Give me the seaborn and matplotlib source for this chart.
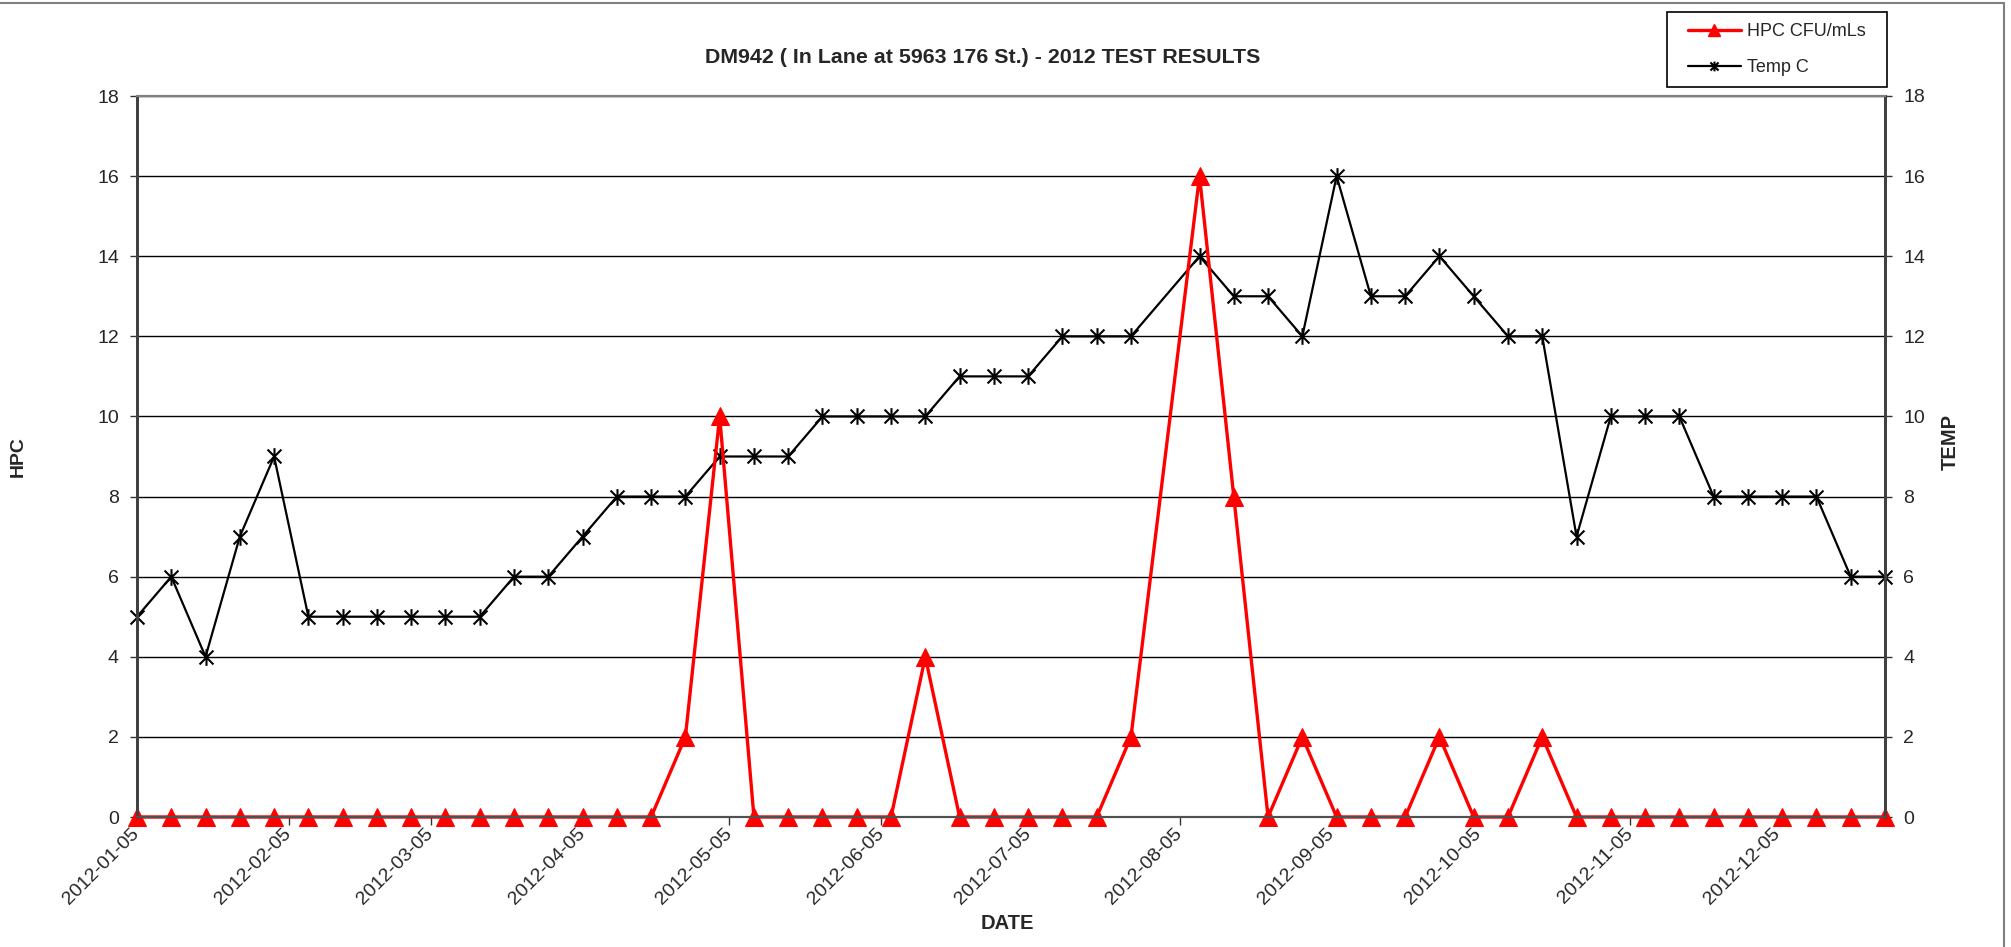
import pandas as pd
import seaborn as sns
import matplotlib
matplotlib.use("Agg")
import matplotlib.pyplot as plt
import matplotlib.dates as mdates
from matplotlib.path import Path
from matplotlib.lines import Line2D
from matplotlib.patches import Rectangle

# --- data (weekly samples, 2012-08-02 missing) ---
dates = ["2012-01-05", "2012-01-12", "2012-01-19", "2012-01-26", "2012-02-02",
         "2012-02-09", "2012-02-16", "2012-02-23", "2012-03-01", "2012-03-08",
         "2012-03-15", "2012-03-22", "2012-03-29", "2012-04-05", "2012-04-12",
         "2012-04-19", "2012-04-26", "2012-05-03", "2012-05-10", "2012-05-17",
         "2012-05-24", "2012-05-31", "2012-06-07", "2012-06-14", "2012-06-21",
         "2012-06-28", "2012-07-05", "2012-07-12", "2012-07-19", "2012-07-26",
         "2012-08-09", "2012-08-16", "2012-08-23", "2012-08-30", "2012-09-06",
         "2012-09-13", "2012-09-20", "2012-09-27", "2012-10-04", "2012-10-11",
         "2012-10-18", "2012-10-25", "2012-11-01", "2012-11-08", "2012-11-15",
         "2012-11-22", "2012-11-29", "2012-12-06", "2012-12-13", "2012-12-20",
         "2012-12-27"]
hpc = [0, 0, 0, 0, 0, 0, 0, 0, 0, 0,
       0, 0, 0, 0, 0, 0, 2, 10, 0, 0,
       0, 0, 0, 4, 0, 0, 0, 0, 0, 2,
       16, 8, 0, 2, 0, 0, 0, 2, 0, 0,
       2, 0, 0, 0, 0, 0, 0, 0, 0, 0,
       0]
temp = [5, 6, 4, 7, 9, 5, 5, 5, 5, 5,
        5, 6, 6, 7, 8, 8, 8, 9, 9, 9,
        10, 10, 10, 10, 11, 11, 11, 12, 12, 12,
        14, 13, 13, 12, 16, 13, 13, 14, 13, 12,
        12, 7, 10, 10, 10, 8, 8, 8, 8, 6,
        6]
tick_dates = ["2012-01-05", "2012-02-05", "2012-03-05", "2012-04-05",
              "2012-05-05", "2012-06-05", "2012-07-05", "2012-08-05",
              "2012-09-05", "2012-10-05", "2012-11-05", "2012-12-05"]
y_ticks = [0, 2, 4, 6, 8, 10, 12, 14, 16, 18]

df = pd.DataFrame({"date": pd.to_datetime(dates), "hpc": hpc, "temp": temp})

sns.set_theme(style="white")
plt.rcParams["font.family"] = ["Liberation Sans", "DejaVu Sans"]

# Excel-like "star" marker: X plus vertical bar
star = Path([(-1, -1), (1, 1), (-1, 1), (1, -1), (0, -1.2), (0, 1.2)],
            [Path.MOVETO, Path.LINETO, Path.MOVETO, Path.LINETO, Path.MOVETO, Path.LINETO])

W, H = 2011, 947
fig = plt.figure(figsize=(W / 100, H / 100), dpi=100)
ax = fig.add_axes([137 / W, 1 - 817 / H, 1748 / W, 721 / H])
ax2 = ax.twinx()
ax.set_zorder(ax2.get_zorder() + 1)
ax.patch.set_visible(False)

red_kw = dict(color="red", lw=2.4, marker="^", markersize=13,
              markeredgecolor="red", markerfacecolor="red")
blk_kw = dict(color="black", lw=1.6, marker=star, markersize=12,
              markeredgecolor="black", markerfacecolor="none", markeredgewidth=1.5)

sns.lineplot(data=df, x="date", y="temp", ax=ax2, legend=False, clip_on=False, **blk_kw)
sns.lineplot(data=df, x="date", y="hpc", ax=ax, legend=False, clip_on=False, **red_kw)

for a in (ax, ax2):
    a.set_ylim(0, 18)
    a.set_yticks(y_ticks)
ax.set_xlim(df["date"].min(), df["date"].max())
ax.set_xticks(pd.to_datetime(tick_dates))
ax.xaxis.set_major_formatter(mdates.DateFormatter("%Y-%m-%d"))

ax2.yaxis.grid(True, color="black", lw=1.0)
ax.grid(False)

ax.tick_params(axis="y", direction="out", length=5, width=1, pad=8, labelsize=14,
               left=True, color="#333333")
ax2.tick_params(axis="y", direction="out", length=5, width=1, pad=8, labelsize=14,
                right=True, color="#333333")
ax.tick_params(axis="x", direction="out", length=6, width=1, pad=4, labelsize=14,
               bottom=True, color="#333333")
plt.setp(ax.get_xticklabels(), rotation=45, ha="right", va="center",
         rotation_mode="anchor")

for a in (ax, ax2):
    for side in ("left", "right"):
        a.spines[side].set_color("#404040")
        a.spines[side].set_linewidth(2)
    a.spines["bottom"].set_color("#505050")
    a.spines["bottom"].set_linewidth(1.5)
    a.spines["top"].set_color("#808080")
    a.spines["top"].set_linewidth(1.5)

ax.set_xlabel("DATE", fontsize=14.5, fontweight="bold")
ax.xaxis.set_label_coords(0.498, -0.1345)
ax.set_ylabel("HPC", fontsize=14, fontweight="bold")
ax.yaxis.set_label_coords(-0.063, 0.5)
ax2.set_ylabel("TEMP", fontsize=14.5, fontweight="bold")
ax2.yaxis.set_label_coords(1.032, 0.52)

ax.set_title("DM942 ( In Lane at 5963 176 St.) - 2012 TEST RESULTS",
             fontsize=15.4, fontweight="bold", x=0.484, y=1.054, va="center", pad=0)

# legend: frame drawn as a fixed box, entries centred inside it
box = (1667, 12, 1887, 87)
fig.add_artist(Rectangle((box[0] / W, 1 - box[3] / H), (box[2] - box[0]) / W,
                         (box[3] - box[1]) / H, transform=fig.transFigure,
                         fill=False, edgecolor="black", lw=1.2))
handles = [Line2D([], [], **{**red_kw, "markersize": 9}),
           Line2D([], [], **{**blk_kw, "markersize": 7})]
fig.legend(handles, ["HPC CFU/mLs", "Temp C"], loc="center",
           bbox_to_anchor=((box[0] + box[2]) / 2 / W, 1 - (box[1] + box[3]) / 2 / H),
           frameon=False, fontsize=13, handlelength=2.9, handletextpad=0.35,
           labelspacing=1.05, borderpad=0, borderaxespad=0)

# chart border (top and right edges only)
fig.add_artist(Line2D([0, 2004 / W], [1 - 3 / H] * 2, transform=fig.transFigure,
                      color="#808080", lw=1.5))
fig.add_artist(Line2D([2004 / W] * 2, [0, 1 - 3 / H], transform=fig.transFigure,
                      color="#808080", lw=1.5))

fig.savefig("out.png", dpi=100)
